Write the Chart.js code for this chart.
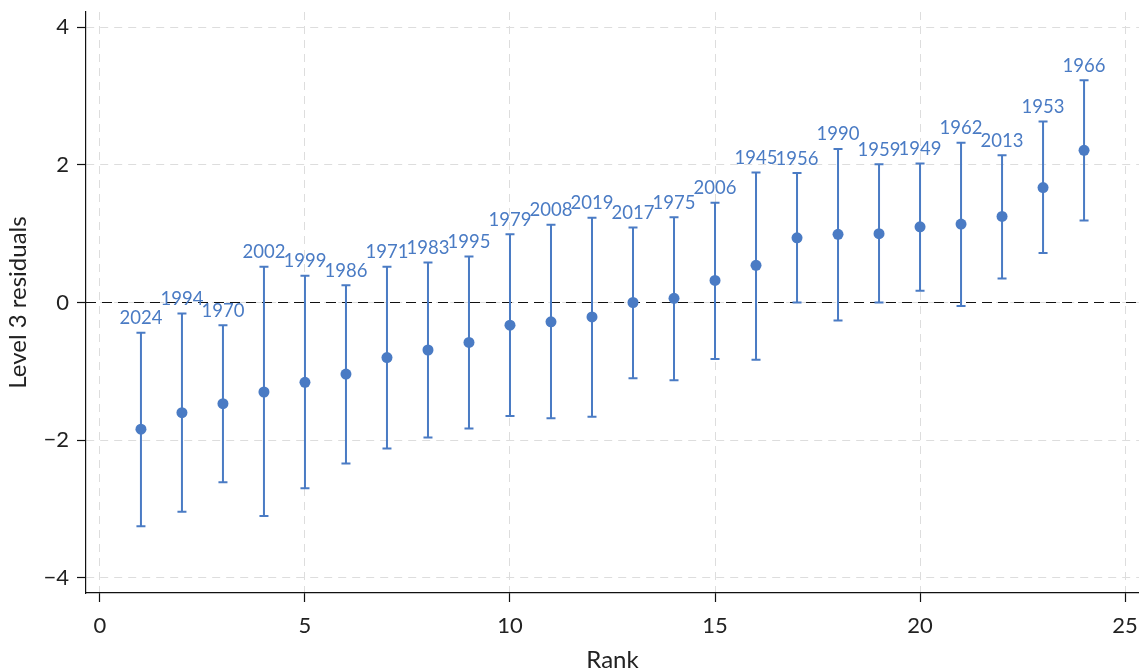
<!DOCTYPE html>
<html>
<head>
<meta charset="utf-8">
<script src="https://cdn.jsdelivr.net/npm/chart.js@4"></script>
<style>
  html, body { margin: 0; padding: 0; background: #fff; }
  #wrap { width: 1139px; height: 672px; }
</style>
</head>
<body>
<div id="wrap"><canvas id="resChart"></canvas></div>
<script>
// data
const ranks = [1, 2, 3, 4, 5, 6, 7, 8, 9, 10, 11, 12, 13, 14, 15, 16, 17, 18, 19, 20, 21, 22, 23, 24];
const years = ['2024', '1994', '1970', '2002', '1999', '1986', '1971', '1983', '1995', '1979', '2008', '2019',
               '2017', '1975', '2006', '1945', '1956', '1990', '1959', '1949', '1962', '2013', '1953', '1966'];
const residuals = [-1.84, -1.60, -1.47, -1.30, -1.16, -1.04, -0.80, -0.69, -0.58, -0.33, -0.28, -0.21,
                   0.00, 0.06, 0.32, 0.54, 0.94, 0.99, 1.00, 1.10, 1.14, 1.25, 1.67, 2.21];
const lower = [-3.25, -3.04, -2.61, -3.10, -2.70, -2.34, -2.12, -1.96, -1.83, -1.65, -1.68, -1.66,
               -1.10, -1.13, -0.82, -0.83, 0.00, -0.26, 0.00, 0.17, -0.05, 0.35, 0.72, 1.19];
const upper = [-0.44, -0.16, -0.33, 0.52, 0.39, 0.25, 0.52, 0.58, 0.67, 0.99, 1.13, 1.23,
               1.09, 1.24, 1.45, 1.89, 1.88, 2.23, 2.01, 2.02, 2.32, 2.14, 2.63, 3.23];
const xTicks = [0, 5, 10, 15, 20, 25];
const yTicks = [-4, -2, 0, 2, 4];

const blue = '#4a7bc4';
const fontName = 'Lato';

const points = ranks.map((r, i) => ({ x: r, y: residuals[i] }));

// error bars, year labels and the zero line
const extras = {
    id: 'extras',
    beforeDatasetsDraw(chart) {
        const ctx = chart.ctx;
        const xs = chart.scales.x;
        const ys = chart.scales.y;
        const area = chart.chartArea;

        // zero line
        const y0 = ys.getPixelForValue(0);
        ctx.save();
        ctx.strokeStyle = '#111';
        ctx.lineWidth = 1.2;
        ctx.setLineDash([10, 6]);
        ctx.beginPath();
        ctx.moveTo(area.left, y0);
        ctx.lineTo(area.right, y0);
        ctx.stroke();
        ctx.restore();

        ctx.save();
        ctx.strokeStyle = blue;
        ctx.lineWidth = 2;
        ranks.forEach((r, i) => {
            const px = xs.getPixelForValue(r);
            const yl = ys.getPixelForValue(lower[i]);
            const yu = ys.getPixelForValue(upper[i]);
            ctx.beginPath();
            ctx.moveTo(px, yl);
            ctx.lineTo(px, yu);
            ctx.moveTo(px - 4.5, yl);
            ctx.lineTo(px + 4.5, yl);
            ctx.moveTo(px - 4.5, yu);
            ctx.lineTo(px + 4.5, yu);
            ctx.stroke();
        });
        ctx.restore();
    },
    afterDatasetsDraw(chart) {
        const ctx = chart.ctx;
        const xs = chart.scales.x;
        const ys = chart.scales.y;
        ctx.save();
        ctx.fillStyle = blue;
        ctx.font = '18.5px ' + fontName;
        ctx.textAlign = 'center';
        ctx.textBaseline = 'alphabetic';
        ranks.forEach((r, i) => {
            ctx.fillText(years[i], xs.getPixelForValue(r), ys.getPixelForValue(upper[i]) - 8.5);
        });
        ctx.restore();
    }
};

new Chart(document.getElementById('resChart'), {
    type: 'scatter',
    data: {
        datasets: [{
            data: points,
            pointRadius: 5.5,
            pointHoverRadius: 5.5,
            pointBackgroundColor: blue,
            pointBorderColor: blue,
            pointBorderWidth: 0
        }]
    },
    options: {
        responsive: true,
        maintainAspectRatio: false,
        animation: false,
        layout: { autoPadding: false, padding: { top: 12, left: 0, right: 0, bottom: 0 } },
        plugins: {
            legend: { display: false },
            tooltip: { enabled: false }
        },
        scales: {
            x: {
                type: 'linear',
                min: -0.34,
                max: 25.34,
                afterBuildTicks: s => { s.ticks = xTicks.map(v => ({ value: v })); },
                afterFit: s => { s.height = 79; s.paddingLeft = 0; s.paddingRight = 0; },
                grid: {
                    color: '#dddddd',
                    lineWidth: 1,
                    tickColor: '#111',
                    tickLength: 9,
                    tickWidth: 1.2
                },
                border: { display: true, color: '#111', width: 1.2, dash: [8, 6] },
                ticks: {
                    color: '#222',
                    padding: 11,
                    font: { family: fontName, size: 22 },
                    maxRotation: 0
                },
                title: {
                    display: true,
                    text: 'Rank',
                    color: '#222',
                    font: { family: fontName, size: 24 },
                    padding: { top: -3, bottom: -3 }
                }
            },
            y: {
                type: 'linear',
                min: -4.22,
                max: 4.22,
                afterBuildTicks: s => { s.ticks = yTicks.map(v => ({ value: v })); },
                afterFit: s => { s.width = 86; s.paddingTop = 0; s.paddingBottom = 0; },
                grid: {
                    color: '#dddddd',
                    lineWidth: 1,
                    tickColor: '#111',
                    tickLength: 9,
                    tickWidth: 1.2
                },
                border: { display: true, color: '#111', width: 1.2, dash: [8, 6] },
                ticks: {
                    color: '#222',
                    padding: 8,
                    font: { family: fontName, size: 22 },
                    callback: v => (v < 0 ? '\u2212' + Math.abs(v) : String(v))
                },
                title: {
                    display: true,
                    text: 'Level 3 residuals',
                    color: '#222',
                    font: { family: fontName, size: 24 },
                    padding: { top: 4, bottom: 0 }
                }
            }
        }
    },
    plugins: [extras]
});
</script>
</body>
</html>
